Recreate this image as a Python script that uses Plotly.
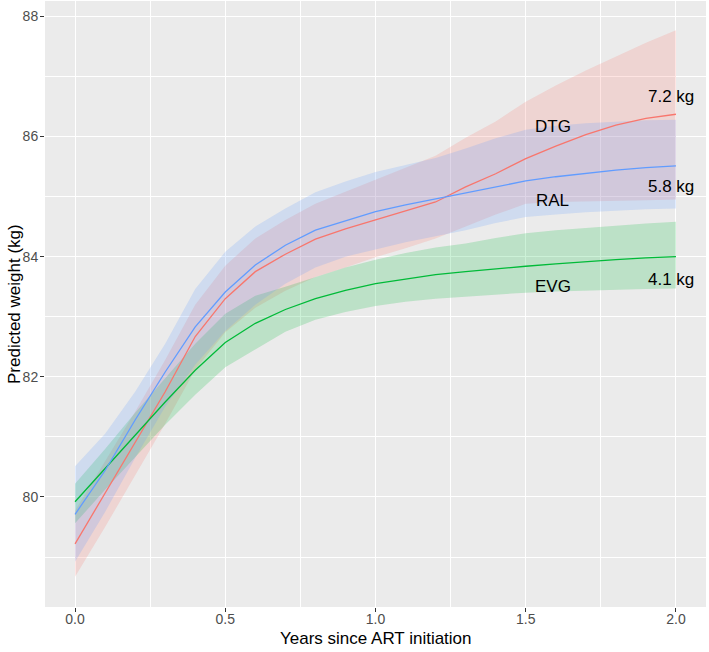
import plotly.graph_objects as go

years = [0.0, 0.1, 0.2, 0.3, 0.4, 0.5, 0.6, 0.7, 0.8, 0.9, 1.0,
         1.1, 1.2, 1.3, 1.4, 1.5, 1.6, 1.7, 1.8, 1.9, 2.0]

dtg_fit = [79.22, 80.06, 80.89, 81.75, 82.67, 83.30, 83.75, 84.04, 84.29, 84.46, 84.61,
           84.76, 84.91, 85.16, 85.38, 85.63, 85.84, 86.03, 86.19, 86.30, 86.37]
dtg_hi = [79.77, 80.60, 81.42, 82.28, 83.20, 83.85, 84.30, 84.61, 84.88, 85.08, 85.28,
          85.47, 85.68, 85.98, 86.25, 86.58, 86.85, 87.10, 87.33, 87.56, 87.77]
dtg_lo = [78.67, 79.50, 80.36, 81.22, 82.12, 82.74, 83.15, 83.43, 83.66, 83.82, 83.99,
          84.14, 84.30, 84.50, 84.70, 84.88, 84.91, 84.92, 84.93, 84.94, 84.95]

ral_fit = [79.71, 80.44, 81.28, 82.08, 82.83, 83.41, 83.86, 84.19, 84.44, 84.60, 84.75,
           84.86, 84.96, 85.07, 85.17, 85.26, 85.33, 85.39, 85.44, 85.48, 85.51]
ral_hi = [80.51, 81.05, 81.75, 82.55, 83.46, 84.08, 84.50, 84.80, 85.07, 85.25, 85.41,
          85.52, 85.64, 85.80, 85.97, 86.11, 86.18, 86.22, 86.25, 86.27, 86.28]
ral_lo = [78.92, 79.75, 80.65, 81.50, 82.20, 82.76, 83.20, 83.55, 83.82, 84.00, 84.12,
          84.24, 84.34, 84.44, 84.56, 84.66, 84.70, 84.74, 84.77, 84.79, 84.80]

evg_fit = [79.92, 80.47, 81.03, 81.58, 82.11, 82.57, 82.89, 83.12, 83.30, 83.44, 83.55,
           83.63, 83.70, 83.75, 83.80, 83.84, 83.88, 83.92, 83.95, 83.98, 84.00]
evg_hi = [80.22, 80.80, 81.40, 81.98, 82.55, 83.05, 83.35, 83.50, 83.66, 83.82, 83.95,
          84.06, 84.15, 84.22, 84.31, 84.39, 84.44, 84.48, 84.52, 84.55, 84.58]
evg_lo = [79.56, 80.12, 80.66, 81.20, 81.70, 82.16, 82.45, 82.75, 82.95, 83.08, 83.18,
          83.25, 83.30, 83.34, 83.37, 83.40, 83.42, 83.44, 83.45, 83.46, 83.47]

drug_names = ["DTG", "RAL", "EVG"]
drug_label_x = [1.59, 1.59, 1.59]
drug_label_y = [86.16, 84.94, 83.51]
gain_labels = ["7.2 kg", "5.8 kg", "4.1 kg"]
gain_label_x = [1.985, 1.985, 1.985]
gain_label_y = [86.67, 85.17, 83.62]

x_ticks = [0.0, 0.5, 1.0, 1.5, 2.0]
x_ticktext = ["0.0", "0.5", "1.0", "1.5", "2.0"]
y_ticks = [80, 82, 84, 86, 88]

series = [
    ("DTG", dtg_fit, dtg_lo, dtg_hi, "#F8766D", "rgba(248,118,109,0.2)"),
    ("EVG", evg_fit, evg_lo, evg_hi, "#00BA38", "rgba(0,186,56,0.2)"),
    ("RAL", ral_fit, ral_lo, ral_hi, "#619CFF", "rgba(97,156,255,0.2)"),
]

fig = go.Figure()
for name, fit, lo, hi, col, fill in series:
    fig.add_trace(go.Scatter(x=years + years[::-1], y=hi + lo[::-1], fill="toself",
                             fillcolor=fill, line=dict(width=0), mode="lines",
                             hoverinfo="skip", showlegend=False))
for name, fit, lo, hi, col, fill in series:
    fig.add_trace(go.Scatter(x=years, y=fit, mode="lines", name=name,
                             line=dict(color=col, width=1.3), showlegend=False))

for t, xx, yy in zip(drug_names, drug_label_x, drug_label_y):
    fig.add_annotation(x=xx, y=yy, text=t, showarrow=False,
                       font=dict(family="Liberation Sans", size=17, color="black"))
for t, xx, yy in zip(gain_labels, gain_label_x, gain_label_y):
    fig.add_annotation(x=xx, y=yy, text=t, showarrow=False,
                       font=dict(family="Liberation Sans", size=17, color="black"))

# axis titles as paper annotations
fig.add_annotation(xref="paper", yref="paper", x=0.5, y=0, yshift=-31,
                   text="Years since ART initiation", showarrow=False,
                   yanchor="middle", xanchor="center",
                   font=dict(family="Liberation Sans", size=17, color="black"))
fig.add_annotation(xref="paper", yref="paper", x=0, y=0.5, xshift=-31,
                   text="Predicted weight (kg)", showarrow=False, textangle=-90,
                   xanchor="center", yanchor="middle",
                   font=dict(family="Liberation Sans", size=17, color="black"))

fig.update_layout(
    width=709, height=652,
    margin=dict(l=45, r=3, t=1, b=45, autoexpand=False),
    paper_bgcolor="white", plot_bgcolor="#EBEBEB",
    font=dict(family="Liberation Sans", color="#4D4D4D"),
)
fig.update_xaxes(
    range=[-0.1, 2.1], tickvals=x_ticks, ticktext=x_ticktext, automargin=False,
    showgrid=True, gridcolor="white", gridwidth=1.2, zeroline=False,
    minor=dict(dtick=0.25, tick0=0, showgrid=True, gridcolor="white", gridwidth=0.6, ticks=""),
    ticks="outside", ticklen=4, tickcolor="#333333", tickwidth=1,
    tickfont=dict(size=14, color="#4D4D4D"), ticklabelstandoff=-5,
    showline=False,
)
fig.update_yaxes(
    range=[78.168, 88.255], tickvals=y_ticks, automargin=False,
    showgrid=True, gridcolor="white", gridwidth=1.2, zeroline=False,
    minor=dict(dtick=1, tick0=79, showgrid=True, gridcolor="white", gridwidth=0.6, ticks=""),
    ticks="outside", ticklen=4, tickcolor="#333333", tickwidth=1,
    tickfont=dict(size=14, color="#4D4D4D"), ticklabelstandoff=-1,
    showline=False,
)

fig.write_html("out.html", config={"displayModeBar": False},
               post_script="document.body.style.margin='0';document.body.style.overflow='hidden';")
